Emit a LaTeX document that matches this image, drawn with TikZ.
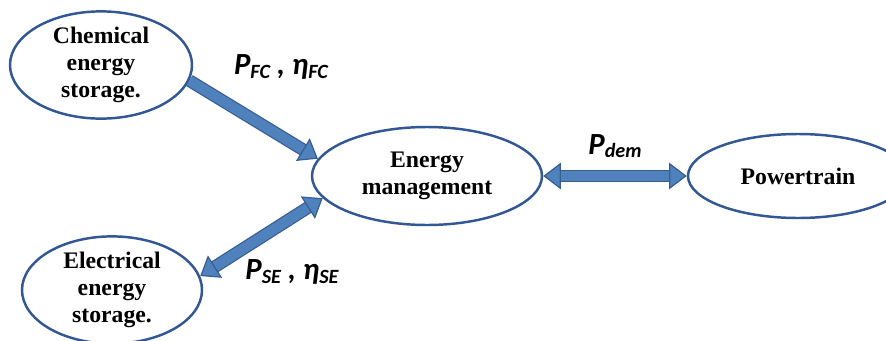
\documentclass[tikz,border=0pt]{standalone}
\usepackage{fontspec}
\setmainfont{Liberation Serif}
\newfontfamily\labelfont{Carlito}
\usepackage{xcolor}
\usepackage{tikz}
\usetikzlibrary{arrows.meta, positioning, shapes.geometric}
\definecolor{rimblue}{rgb}{0.20,0.34,0.58}
\definecolor{pipeblue}{rgb}{0.31,0.51,0.74}
\definecolor{pipeedge}{rgb}{0.22,0.37,0.56}
\newcommand{\flowsub}[1]{\raisebox{-0.12em}{\fontsize{11.5}{12}\selectfont #1}}

\begin{document}
\begin{tikzpicture}[
  blob/.style={ellipse, draw=rimblue, line width=1.4pt, fill=white,
               inner sep=0pt, font=\bfseries\fontsize{13.5}{15.4}\selectfont,
               align=center},
  pipe/.style={draw=pipeedge, line width=0.7pt, double=pipeblue,
               double distance=5.8pt},
  head/.tip={Triangle[length=10pt, width=15pt, fill=pipeblue,
                      color=pipeedge, line width=0.7pt]},
  flow/.style={font=\labelfont\bfseries\itshape\fontsize{17.5}{20}\selectfont,
               inner sep=1pt}
]
  \useasboundingbox (0,0) rectangle (17.72,6.8);
  \node[blob, minimum width=3.64cm, minimum height=2.08cm] (chem) at (2.02,5.50)
    {Chemical\\energy\\storage.};
  \node[blob, minimum width=3.60cm, minimum height=2.12cm] (elec) at (2.24,1.00)
    {Electrical\\energy\\storage.};
  \node[blob, minimum width=4.60cm, minimum height=1.96cm] (ems) at (8.54,3.28)
    {Energy\\management};
  \node[blob, minimum width=4.40cm, minimum height=1.68cm] (drive) at (15.96,3.28)
    {Powertrain};
  % power flows
  \draw[pipe, -head] (chem.-10) -- (ems.171);
  \draw[pipe, head-head] (elec.9) -- (ems.192);
  \draw[pipe, head-head] (ems.east) -- (drive.west);
  \node[flow] (pfc) at (5.62,5.46) {P\flowsub{FC} , η\flowsub{FC}};
  \node[flow] (pse) at (5.84,1.36) {P\flowsub{SE} , η\flowsub{SE}};
  \node[flow] (pdem) at (12.30,3.88) {P\flowsub{dem}};
\end{tikzpicture}
\end{document}
